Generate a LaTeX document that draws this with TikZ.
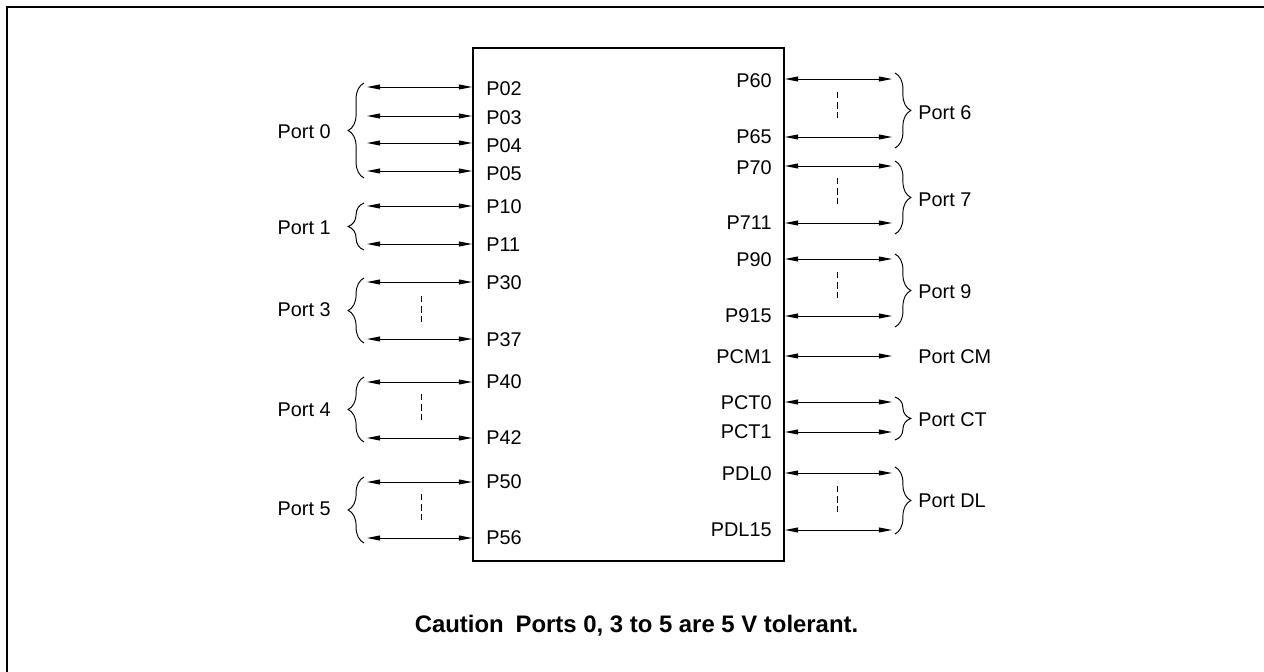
\documentclass[tikz,border=0pt]{standalone}
\usepackage{fontspec}
\setmainfont{Liberation Sans}
\usetikzlibrary{arrows.meta,positioning,decorations.pathreplacing}
\tikzset{
  >={Triangle[length=7.5pt,width=2.8pt]},
  chip/.style={draw, line width=1.1pt, inner sep=0pt, minimum width=6.22cm, minimum height=10.26cm},
  pin/.style={<->, line width=0.55pt},
  lbl/.style={inner sep=0pt, font=\fontsize{11.3}{13}\selectfont},
  brc/.style={decorate, decoration={brace, amplitude=9pt}, line width=0.55pt},
  dots/.style={dash pattern=on 3.6pt off 2.2pt, line width=0.55pt},
  caption/.style={inner sep=0pt, font=\fontsize{13.6}{15}\selectfont\bfseries},
}
\begin{document}
\begin{tikzpicture}[x=0.02cm, y=-0.02cm]
  \useasboundingbox (0,0) rectangle (1264,672);
  \draw[line width=1.3pt] (7,672) -- (7,7) -- (1264,7);
  \node[chip] (chip) at (628.5,304.5) {};
  % left pins
  \foreach \n/\y/\d in {P02/87/2, P03/116/2, P04/143/3, P05/171/3, P10/206/1, P11/244/1,
                        P30/282/1, P37/339/1, P40/382/0, P42/438/0, P50/482/0, P56/538/0} {
    \coordinate (\n) at (367,\y);
    \draw[pin] (\n) -- (\n -| chip.west);
    \path (\n -| chip.west) ++(14,\d) node[lbl, anchor=west] (\n-t) {\n};
  }
  % right pins
  \foreach \n/\y/\d in {P60/79/2, P65/137/0, P70/166/2, P711/223/0, P90/259/1, P915/316/0,
                        PCM1/356/1, PCT0/402/1, PCT1/432/0, PDL0/473/1, PDL15/530/0} {
    \coordinate (\n) at (892,\y);
    \draw[pin] (\n -| chip.east) -- (\n);
    \path (\n -| chip.east) ++(-13,\d) node[lbl, anchor=east] (\n-t) {\n};
  }
  \foreach \y in {296,394,494} \draw[dots] (421,\y) -- ++(0,26);
  \foreach \y in {92,178,272,486} \draw[dots] (837,\y) -- ++(0,26);
  % left braces
  \foreach \a/\b/\m/\t in {83/178/132/0, 203/250/228/1, 278/343/310/3, 377/442/410/4, 477/543/509/5} {
    \draw[brc] (364,\b) -- (364,\a);
    \node[lbl, anchor=east] (port\t) at (331,\m) {Port \t};
  }
  % right braces
  \foreach \a/\b/\m/\t in {73/148/113/6, 161/234/200/7, 254/327/292/9, 397/440/420/CT, 467/534/501/DL} {
    \draw[brc] (895,\a) -- (895,\b);
    \node[lbl, anchor=west] (port\t) at (918,\m) {Port \t};
  }
  \node[lbl, anchor=west] (portCM) at (918,357) {Port CM};
  \node[caption, anchor=base] (note) at (636.5,632) {Caution\hspace{3pt} Ports 0, 3 to 5 are 5 V tolerant.};
\end{tikzpicture}
\end{document}
